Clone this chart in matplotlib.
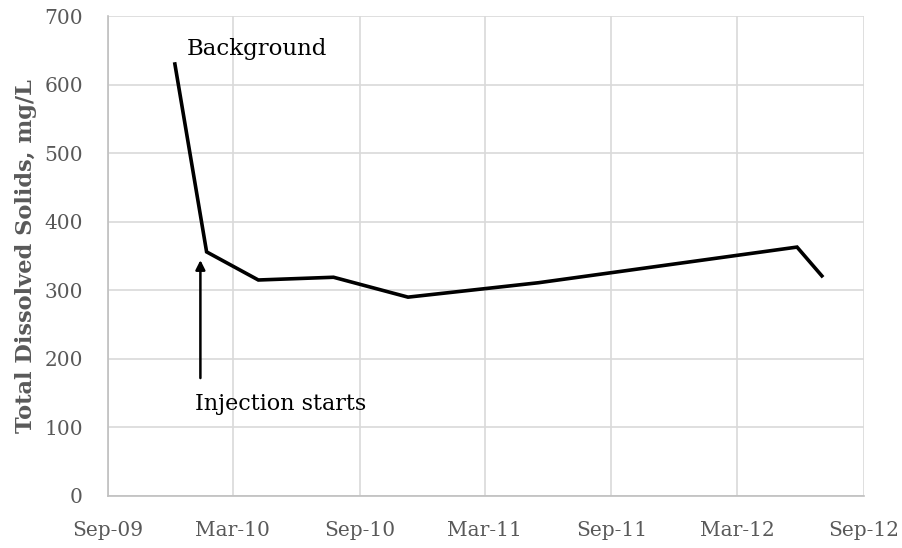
import matplotlib.pyplot as plt
import numpy as np
from datetime import datetime

# sample dates and TDS values (mg/L)
dates = [datetime(2009, 12, 7), datetime(2010, 1, 22), datetime(2010, 4, 7),
         datetime(2010, 7, 25), datetime(2010, 11, 10), datetime(2011, 5, 18),
         datetime(2012, 5, 27), datetime(2012, 7, 2)]
tds = [630, 356, 315, 319, 290, 311, 363, 321]

tick_dates = [datetime(2009, 9, 1), datetime(2010, 3, 1), datetime(2010, 9, 1),
              datetime(2011, 3, 1), datetime(2011, 9, 1), datetime(2012, 3, 1),
              datetime(2012, 9, 1)]
tick_labels = ["Sep-09", "Mar-10", "Sep-10", "Mar-11", "Sep-11", "Mar-12", "Sep-12"]

plt.rcParams['font.family'] = ['DejaVu Serif']
grey = '#595959'

fig = plt.figure(figsize=(9.02, 5.48), dpi=100)
ax = fig.add_axes([0.1197, 0.0949, 0.8381, 0.8759])

ax.plot(dates, tds, color='black', linewidth=2.6, solid_joinstyle='miter')

ax.set_xlim(tick_dates[0], tick_dates[-1])
ax.set_ylim(0, 700)
ax.set_xticks(tick_dates)
ax.set_xticklabels(tick_labels)
ax.set_yticks(np.arange(0, 701, 100))

ax.grid(True, color='#d9d9d9', linewidth=1.2)
ax.set_axisbelow(True)
for s in ['top', 'right']:
    ax.spines[s].set_visible(False)
for s in ['left', 'bottom']:
    ax.spines[s].set_color('#bfbfbf')
    ax.spines[s].set_linewidth(1.2)

ax.tick_params(axis='both', length=0, labelsize=14.5, labelcolor=grey)
ax.tick_params(axis='y', pad=18)
ax.tick_params(axis='x', pad=18)

ax.set_ylabel('Total Dissolved Solids, mg/L', fontsize=16.2, fontweight='bold',
              color=grey)
ax.yaxis.set_label_coords(-0.094, 0.5)

ax.text(datetime(2009, 12, 24), 643, 'Background', fontsize=16.5, color='black',
        ha='left', va='baseline')
ax.text(datetime(2010, 1, 5), 125, 'Injection starts', fontsize=16,
        color='black', ha='left', va='baseline')
ax.annotate('', xy=(datetime(2010, 1, 13), 344),
            xytext=(datetime(2010, 1, 13), 172),
            arrowprops=dict(arrowstyle='-|>', color='black', lw=1.8,
                            mutation_scale=14, shrinkA=0, shrinkB=0))

fig.savefig('out.png', dpi=100)
